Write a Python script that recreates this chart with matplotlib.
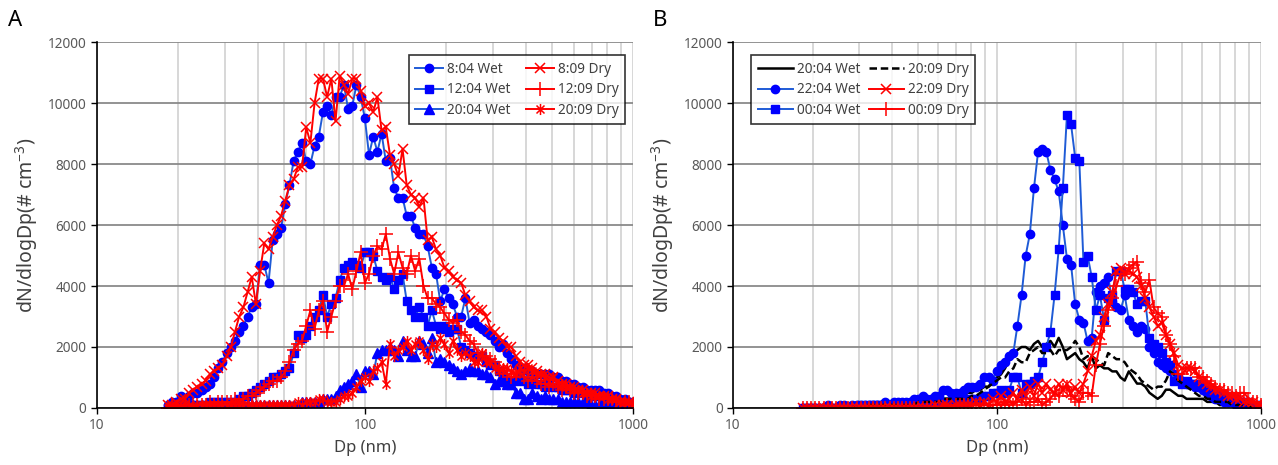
import numpy as np
import matplotlib
matplotlib.use("Agg")
import matplotlib.pyplot as plt
from matplotlib.path import Path

plt.rcParams['font.family'] = ['Noto Sans', 'DejaVu Sans']
plt.rcParams['mathtext.fontset'] = 'custom'
plt.rcParams['mathtext.rm'] = 'Noto Sans'
plt.rcParams['mathtext.default'] = 'regular'

# SMPS channel midpoints (nm), 64 channels per decade
dp = [18.40, 19.07, 19.77, 20.50, 21.25, 22.03, 22.83, 23.67, 24.54, 25.44,
      26.37, 27.33, 28.33, 29.37, 30.45, 31.56, 32.72, 33.92, 35.16, 36.45,
      37.78, 39.17, 40.60, 42.09, 43.63, 45.23, 46.89, 48.60, 50.38, 52.23,
      54.14, 56.13, 58.19, 60.32, 62.53, 64.82, 67.19, 69.65, 72.20, 74.85,
      77.59, 80.43, 83.38, 86.43, 89.60, 92.88, 96.28, 99.81, 103.47, 107.26,
      111.19, 115.26, 119.48, 123.86, 128.40, 133.10, 137.98, 143.03, 148.27, 153.70,
      159.33, 165.17, 171.22, 177.49, 184.0, 190.74, 197.73, 204.97, 212.48, 220.26,
      228.33, 236.69, 245.36, 254.35, 263.67, 273.33, 283.34, 293.72, 304.48, 315.63,
      327.2, 339.2, 351.6, 364.5, 377.8, 391.7, 406.0, 420.9, 436.3, 452.3,
      468.9, 486.0, 503.8, 522.3, 541.4, 561.3, 581.9, 603.2, 625.3, 648.2,
      671.9, 696.5, 722.0, 748.5, 775.9, 804.3, 833.8, 864.3, 896.0, 928.8,
      962.8, 998.1]

# dN/dlogDp values in units of 100 # cm-3
# panel A
wet_0804 = [1,2,2,4,3,4,5,5,6,7,
            8,10,13,15,18,20,22,25,27,30,
            33,34,47,47,41,55,57,59,67,73,
            81,84,87,81,80,86,89,97,99,96,
            102,102,106,98,99,106,102,95,83,89,
            84,90,81,82,72,69,69,63,63,59,
            57,57,53,46,44,35,39,36,34,30,
            30,36,28,29,27,26,25,24,22,20,
            21,18,16,14,13,13,12,12,11,11,
            11,11,10,10,9,9,8,8,7,7,
            6,6,6,6,5,5,4,4,3,3,
            2,2]
wet_1204 = [0,1,0,1,1,1,1,1,1,1,
            2,2,2,2,2,2,2,3,4,4,
            5,6,7,8,9,10,10,11,12,13,
            18,24,23,24,27,30,32,37,30,34,
            36,42,46,47,48,47,46,51,51,50,
            45,43,42,43,39,42,44,35,32,30,
            33,30,27,32,27,26,27,25,26,26,
            20,19,18,17,17,17,15,14,14,12,
            11,9,9,9,10,9,8,9,8,8,
            7,8,7,7,6,6,6,5,6,5,
            4,4,4,4,3,3,3,2,2,2,
            2,1]
wet_2004 = [0,1,0,0,1,0,1,0,1,0,
            1,1,0,1,1,1,1,1,1,1,
            1,1,1,1,1,1,1,1,1,1,
            1,1,2,2,2,2,2,3,3,3,
            4,6,7,8,9,11,7,12,12,11,
            18,19,19,20,19,17,22,19,17,17,
            22,21,18,23,15,16,15,14,13,12,
            11,12,13,12,12,11,11,10,8,9,
            9,8,8,5,5,3,3,5,4,3,
            4,3,3,3,2,2,2,2,2,2,
            2,1,1,1,1,1,1,1,1,1,
            1,1]
dry_0809 = [1,1,2,3,3,5,6,7,8,9,
            11,12,13,14,17,20,25,30,33,38,
            43,34,45,54,52,56,60,63,68,73,
            75,79,79,92,87,100,108,108,102,108,
            94,109,106,103,108,108,104,99,100,97,
            102,91,92,83,80,76,85,73,70,69,
            66,69,55,56,52,50,46,45,43,42,
            41,37,35,33,32,32,30,26,25,23,
            22,20,20,17,15,14,14,13,12,11,
            11,10,10,9,8,8,7,7,6,6,
            5,5,5,4,4,4,3,3,2,2,
            2,1]
dry_1209 = [0,1,0,1,1,1,1,1,1,1,
            2,1,2,2,2,2,3,2,3,4,
            4,5,6,7,8,9,9,10,12,15,
            19,21,22,27,32,26,32,35,25,30,
            35,40,40,44,39,45,51,41,44,50,
            53,52,57,49,44,51,46,44,50,45,
            49,40,36,36,34,33,31,29,28,29,
            25,24,22,21,18,17,17,16,15,13,
            12,11,10,11,12,10,9,10,9,8,
            8,7,8,7,6,7,6,5,5,5,
            4,4,4,3,3,3,3,2,2,2,
            2,1]
dry_2009 = [0,0,1,0,1,1,0,1,1,1,
            1,1,1,1,1,1,1,1,1,1,
            1,1,1,1,1,1,1,1,1,1,
            1,2,1,2,2,2,3,3,2,2,
            2,3,4,4,5,7,9,10,9,12,
            13,15,8,21,17,19,20,22,19,21,
            22,19,16,21,20,23,21,18,22,19,
            17,18,17,15,15,18,15,15,13,12,
            13,13,12,11,13,12,13,12,11,11,
            10,9,10,8,8,7,7,6,6,5,
            5,4,4,4,4,3,3,3,2,2,
            2,1]

# panel B
wetB_2004 = [0,0,0,0,0,0,0,0,0,0,
             0,0,1,0,1,1,1,1,1,1,
             1,1,1,1,1,1,1,2,2,2,
             2,2,3,3,3,3,3,3,4,4,
             5,5,6,6,7,7,9,10,11,13,
             16,18,19,20,20,19,21,22,20,21,
             22,20,23,20,16,17,18,16,15,13,
             17,13,14,13,13,12,12,10,9,12,
             10,8,8,7,5,4,3,4,6,6,
             5,4,4,3,3,3,3,3,2,2,
             2,1,1,1,1,1,1,1,0,0,
             0,0]
dryB_2009 = [0,0,0,0,0,0,0,0,0,0,
             0,0,0,1,0,1,1,1,1,1,
             1,1,1,1,1,1,1,1,2,2,
             2,2,2,2,3,3,3,3,3,3,
             3,4,4,5,6,7,8,9,10,10,
             12,13,16,15,15,18,19,20,18,18,
             19,17,19,19,19,20,22,20,16,17,
             17,16,15,14,18,17,16,16,15,13,
             12,11,9,8,7,6,7,7,9,12,
             11,9,8,7,6,5,4,4,3,3,
             2,2,2,2,1,1,1,1,1,0,
             0,0]
wet_2204 = [0,0,0,0,0,0,1,0,0,1,
            1,0,1,1,1,1,1,1,1,1,
            2,1,2,2,2,2,2,3,3,4,
            3,3,4,4,6,6,5,5,5,6,
            7,7,7,8,10,10,9,12,14,15,
            17,18,27,37,50,57,72,84,85,84,
            78,75,71,60,49,47,34,29,28,22,
            23,38,40,41,43,35,33,32,37,29,
            27,25,27,26,20,18,15,14,13,12,
            11,10,9,8,8,7,7,6,5,4,
            3,3,2,2,2,1,1,1,1,1,
            0,0]
wet_0004 = [0,0,0,0,0,0,0,0,0,0,
            0,0,0,0,1,0,1,1,1,1,
            1,1,1,1,1,1,1,1,1,1,
            2,2,2,2,2,2,2,2,3,2,
            3,3,3,3,4,4,5,5,6,5,
            6,10,10,5,8,8,9,10,15,20,
            25,37,52,72,96,93,82,81,48,50,
            43,32,37,29,36,37,45,45,39,39,
            38,34,35,35,23,21,20,18,15,14,
            9,10,8,9,8,8,7,8,7,6,
            5,5,4,4,3,3,2,2,2,1,
            1,1]
dry_2209 = [0,0,0,0,0,0,0,0,0,0,
            0,0,0,0,0,0,0,0,0,0,
            0,0,0,0,0,0,0,0,0,0,
            0,0,1,0,1,1,0,1,1,1,
            1,1,2,1,2,1,3,2,4,2,
            3,5,3,6,4,7,4,8,5,8,
            6,5,8,6,8,5,7,5,8,12,
            17,22,24,30,34,38,45,46,44,45,
            44,43,40,36,33,30,27,28,24,21,
            18,14,13,13,13,12,10,9,8,7,
            6,6,5,4,4,3,3,2,2,2,
            1,1]
dry_0009 = [0,0,0,0,0,0,0,0,0,0,
            0,0,0,0,0,0,0,0,0,0,
            0,0,0,0,0,0,0,0,0,0,
            0,0,0,0,0,1,0,1,1,1,
            1,1,1,1,1,1,1,1,2,1,
            2,1,2,3,1,2,2,3,1,2,
            3,5,4,6,7,4,3,2,5,5,
            4,14,21,27,32,36,40,44,44,46,
            47,48,41,38,42,33,31,30,24,21,
            17,11,11,13,13,13,10,10,9,8,
            7,6,6,5,5,4,5,5,3,2,
            2,1]

labels_A = ['8:04 Wet', '12:04 Wet', '20:04 Wet', '8:09 Dry', '12:09 Dry', '20:09 Dry']
labels_B = ['20:04 Wet', '22:04 Wet', '00:04 Wet', '20:09 Dry', '22:09 Dry', '00:09 Dry']

x = np.array(dp)
def v(a):
    return np.array(a) * 100

BLUE_LINE = '#1f5bd6'
BLUE = '#0000ff'
RED = '#ff0000'

# asterisk marker (x plus vertical bar)
star = Path([(0, -1), (0, 1), (-0.72, -0.72), (0.72, 0.72), (-0.72, 0.72), (0.72, -0.72)],
            [Path.MOVETO, Path.LINETO] * 3)

wet_kw = dict(color=BLUE_LINE, lw=1.4, mfc=BLUE, mec=BLUE)
dry_kw = dict(color=RED, lw=1.4, mec=RED, mew=1.1)

fig = plt.figure(figsize=(12.78, 4.65), dpi=100)
axA = fig.add_axes([0.0759, 0.1226, 0.4195, 0.787])
axB = fig.add_axes([0.5736, 0.1226, 0.4131, 0.787])

hA = []
hA += axA.plot(x, v(wet_0804), marker='o', ms=6, **wet_kw)
hA += axA.plot(x, v(wet_1204), marker='s', ms=5.8, **wet_kw)
hA += axA.plot(x, v(wet_2004), marker='^', ms=6.5, **wet_kw)
hA += axA.plot(x, v(dry_0809), marker='x', ms=7, **dry_kw)
hA += axA.plot(x, v(dry_1209), marker='+', ms=10, **dry_kw)
hA += axA.plot(x, v(dry_2009), marker=star, ms=8, **dry_kw)

hB = []
hB += axB.plot(x, v(wetB_2004), color='black', lw=1.8)
hB += axB.plot(x, v(wet_2204), marker='o', ms=6, **wet_kw)
hB += axB.plot(x, v(wet_0004), marker='s', ms=6.3, **wet_kw)
hB += axB.plot(x, v(dryB_2009), color='black', lw=1.8, ls=(0, (3, 1.5)))
hB += axB.plot(x, v(dry_2209), marker='x', ms=7, **dry_kw)
hB += axB.plot(x, v(dry_0009), marker='+', ms=10, **dry_kw)

for ax in (axA, axB):
    ax.set_xscale('log')
    ax.set_xlim(10, 1000)
    ax.set_ylim(0, 12000)
    ax.set_yticks(range(0, 12001, 2000))
    ax.set_xticks([10, 100, 1000])
    ax.set_xticklabels(['10', '100', '1000'])
    ax.set_axisbelow(True)
    ax.yaxis.grid(True, color='#8a8a8a', lw=1.3)
    ax.xaxis.grid(True, which='both', color='#d4d4d4', lw=1.3)
    for s in ('top', 'right'):
        ax.spines[s].set_visible(False)
    for s in ('left', 'bottom'):
        ax.spines[s].set_color('black')
        ax.spines[s].set_linewidth(1.2)
    ax.tick_params(axis='both', which='major', direction='out', length=4,
                   width=1, labelsize=9.8, labelcolor='#595959', color='black')
    ax.tick_params(axis='x', which='minor', length=0)
    ax.set_xlabel('Dp (nm)', fontsize=12, color='#404040', labelpad=5)
    ax.set_ylabel(r'dN/dlogDp(# cm$^{-3}$)', fontsize=14, color='#404040', labelpad=6)

legA = axA.legend(hA, labels_A, ncol=2, loc='upper right', bbox_to_anchor=(0.997, 0.982),
                  fontsize=9.8, frameon=True, fancybox=False, edgecolor='black',
                  handlelength=2.0, handletextpad=0.3, columnspacing=1.2,
                  labelspacing=0.42, borderpad=0.45)
legA.get_frame().set_linewidth(1.2)
legB = axB.legend(hB, labels_B, ncol=2, loc='upper left', bbox_to_anchor=(0.022, 0.982),
                  fontsize=9.8, frameon=True, fancybox=False, edgecolor='black',
                  handlelength=2.6, handletextpad=0.3, columnspacing=0.6,
                  labelspacing=0.42, borderpad=0.45)
legB.get_frame().set_linewidth(1.2)
for leg in (legA, legB):
    for t in leg.get_texts():
        t.set_color('#404040')

fig.text(0.006, 0.945, 'A', fontsize=16, color='black')
fig.text(0.511, 0.945, 'B', fontsize=16, color='black')

fig.savefig('out.png', dpi=100)
